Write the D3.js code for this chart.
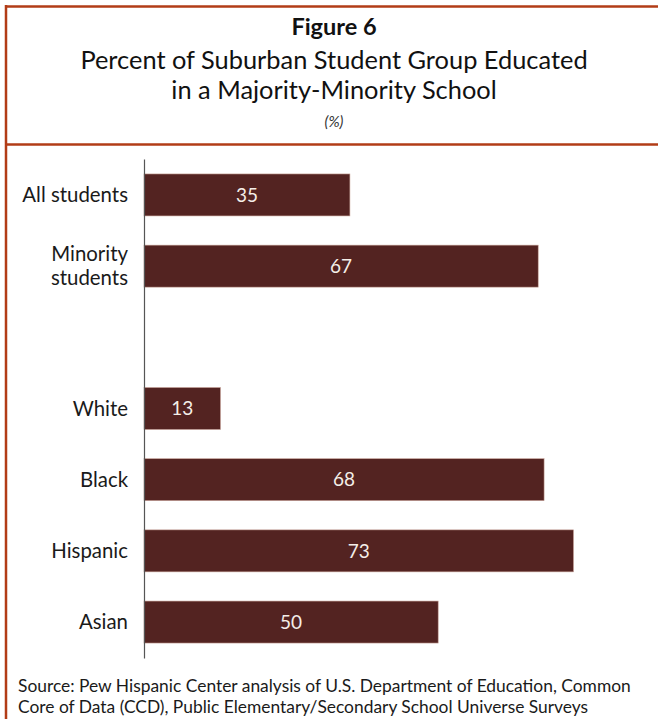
<!DOCTYPE html>
<html>
<head>
<meta charset="utf-8">
<script src="https://cdn.jsdelivr.net/npm/d3@7"></script>
<style>
  html, body { margin: 0; padding: 0; background: #fff; }
  svg { display: block; }
</style>
</head>
<body>
<svg id="chart" width="658" height="719"></svg>
<script>
const categories = ["All students", "Minority students", "", "White", "Black", "Hispanic", "Asian"];
const values = [35, 67, null, 13, 68, 73, 50];
const titleLines = ["Figure 6", "Percent of Suburban Student Group Educated", "in a Majority-Minority School", "(%)"];
const sourceLines = ["Source: Pew Hispanic Center analysis of U.S. Department of Education, Common",
                     "Core of Data (CCD), Public Elementary/Secondary School Universe Surveys"];

const FONT = "Lato, 'Open Sans', sans-serif";
const frameColor = "#b23c17";
const barColor = "#532321";

const svg = d3.select("#chart");

// Frame
svg.append("line").attr("x1", 6).attr("x2", 658).attr("y1", 6.5).attr("y2", 6.5)
  .attr("stroke", frameColor).attr("stroke-width", 2.5);
svg.append("line").attr("x1", 6).attr("x2", 6).attr("y1", 5).attr("y2", 719)
  .attr("stroke", frameColor).attr("stroke-width", 2.5);
svg.append("line").attr("x1", 6).attr("x2", 658).attr("y1", 144.5).attr("y2", 144.5)
  .attr("stroke", frameColor).attr("stroke-width", 2.5);

// Titles
const cx = 334;
svg.append("text").attr("x", cx).attr("y", 35).attr("text-anchor", "middle")
  .attr("font-family", FONT).attr("font-weight", "bold").attr("font-size", 23.5)
  .attr("fill", "#111").text(titleLines[0]);
svg.append("text").attr("x", cx).attr("y", 69).attr("text-anchor", "middle")
  .attr("font-family", FONT).attr("font-size", 25.4).attr("fill", "#111").text(titleLines[1]);
svg.append("text").attr("x", cx).attr("y", 99).attr("text-anchor", "middle")
  .attr("font-family", FONT).attr("font-size", 25.4).attr("fill", "#111").text(titleLines[2]);
svg.append("text").attr("x", cx).attr("y", 127).attr("text-anchor", "middle")
  .attr("font-family", FONT).attr("font-style", "italic").attr("font-size", 15)
  .attr("fill", "#333").text(titleLines[3]);

// Scales
const x = d3.scaleLinear().domain([0, 73]).range([144, 573.5]);
const y = d3.scaleBand().domain(d3.range(categories.length)).range([159, 658])
  .paddingInner(0.41).paddingOuter(0.21);

// Bars
const data = categories.map((c, i) => ({ c, v: values[i], i })).filter(d => d.v != null);
svg.selectAll("rect.bar").data(data).join("rect")
  .attr("class", "bar")
  .attr("x", x(0))
  .attr("y", d => y(d.i))
  .attr("width", d => x(d.v) - x(0))
  .attr("height", y.bandwidth())
  .attr("fill", barColor)
  .attr("stroke", "#c8a49a").attr("stroke-width", 0.6);

// Value labels
svg.selectAll("text.val").data(data).join("text")
  .attr("class", "val")
  .attr("x", d => (x(0) + x(d.v)) / 2)
  .attr("y", d => y(d.i) + y.bandwidth() / 2)
  .attr("dy", "0.35em")
  .attr("text-anchor", "middle")
  .attr("font-family", FONT).attr("font-size", 19)
  .attr("fill", "#f4eee8")
  .text(d => d.v);

// Axis (vertical line, no ticks)
const axis = d3.axisLeft(y).tickSize(0).tickFormat("");
const ag = svg.append("g").attr("transform", `translate(${x(0)},0)`).call(axis);
ag.select(".domain").attr("stroke", "#555").attr("stroke-width", 1.2);

// Category labels
const labels = svg.selectAll("text.cat").data(data).join("text")
  .attr("class", "cat")
  .attr("text-anchor", "end")
  .attr("font-family", FONT).attr("font-size", 20.4)
  .attr("fill", "#1a1a1a");
labels.each(function(d) {
  const t = d3.select(this);
  const cy = y(d.i) + y.bandwidth() / 2;
  if (d.c === "Minority students") {
    t.append("tspan").attr("x", 128).attr("y", cy - 12).attr("dy", "0.35em").text("Minority");
    t.append("tspan").attr("x", 128).attr("y", cy + 12).attr("dy", "0.35em").text("students");
  } else {
    t.append("tspan").attr("x", 128).attr("y", cy).attr("dy", "0.35em").text(d.c);
  }
});

// Source
sourceLines.forEach((s, i) => {
  svg.append("text").attr("x", 18).attr("y", 692 + i * 20.5)
    .attr("font-family", FONT).attr("font-size", 17.4).attr("fill", "#1a1a1a").text(s);
});
</script>
</body>
</html>
